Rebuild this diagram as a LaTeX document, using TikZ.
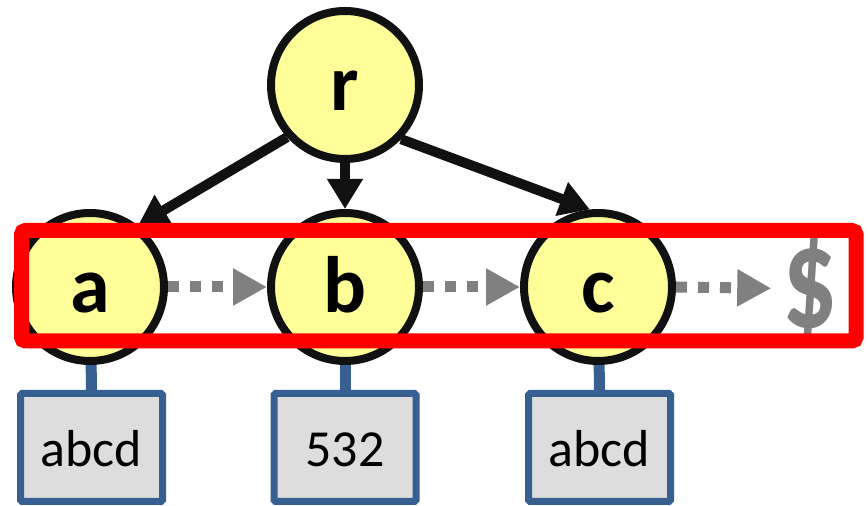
\documentclass[tikz,border=0pt]{standalone}
\usepackage{fontspec}
\setmainfont{Carlito}
\usetikzlibrary{arrows.meta}
\definecolor{nodeyellow}{HTML}{FFFF99}
\definecolor{vline}{HTML}{111111}
\definecolor{boxgray}{HTML}{DDDDDD}
\definecolor{boxblue}{HTML}{385F91}
\definecolor{arrowgray}{HTML}{808080}
\definecolor{framered}{HTML}{FF0000}
\begin{document}
\begin{tikzpicture}[x=1pt,y=1pt,
  vtx/.style={circle, draw=vline, fill=nodeyellow, line width=8pt,
    minimum size=148pt, inner sep=0pt, outer sep=4pt,
    font=\fontsize{80}{96}\selectfont\bfseries, text height=52pt, text depth=0pt},
  valbox/.style={rectangle, draw=boxblue, fill=boxgray, line width=7pt,
    rounded corners=1.5pt, minimum width=142pt, minimum height=108pt,
    inner sep=0pt, font=\fontsize{52}{62}\selectfont, text height=39pt, text depth=0pt},
  stem/.style={draw=boxblue, line width=11pt},
  treeedge/.style={draw=vline, line width=10pt, -{Triangle[length=30pt,width=34pt]}},
  nextedge/.style={draw=arrowgray, line width=11pt, dash pattern=on 11pt off 11pt,
    -{Triangle[length=34pt,width=35pt]}},
  redframe/.style={rectangle, draw=framered, line width=15pt, rounded corners=4pt,
    minimum width=834.5pt, minimum height=110.5pt, inner sep=0pt}
]
\useasboundingbox (0,0) rectangle (868,506);
% boxes
\node[valbox] (va) at (91.5,58.5) {abcd};
\node[valbox] (vb) at (345,58.5) {532};
\node[valbox] (vc) at (599.5,58.5) {abcd};
% coordinates for circle centers (used for stems)
\coordinate (ca) at (90,219);
\coordinate (cb) at (345,219);
\coordinate (cc) at (598,219);
\draw[stem] (ca) -- (va.north);
\draw[stem] (cb) -- (vb.north);
\draw[stem] (cc) -- (vc.north);
% vertices
\node[vtx] (r) at (345,421) {r};
\node[vtx] (a) at (ca) {a};
\node[vtx] (b) at (cb) {b};
\node[vtx] (c) at (cc) {c};
% tree edges
\draw[treeedge] (r.222) -- (a.52);
\draw[treeedge] (r.south) -- (b.north);
\draw[treeedge] (r.316) -- (c.96);
% dollar
\node[font=\fontsize{145}{174}\selectfont\bfseries, text=arrowgray, inner sep=0pt] (dollar) at (810,217.5) {\scalebox{0.75}[1]{\$}};
% next edges
\draw[nextedge] (a.east) -- (b.west);
\draw[nextedge] (b.east) -- (c.west);
\draw[nextedge, shorten >=11pt] (c.east) -- (dollar.west);
% red frame
\node[redframe] (frame) at (438.75,220.25) {};
\end{tikzpicture}
\end{document}
